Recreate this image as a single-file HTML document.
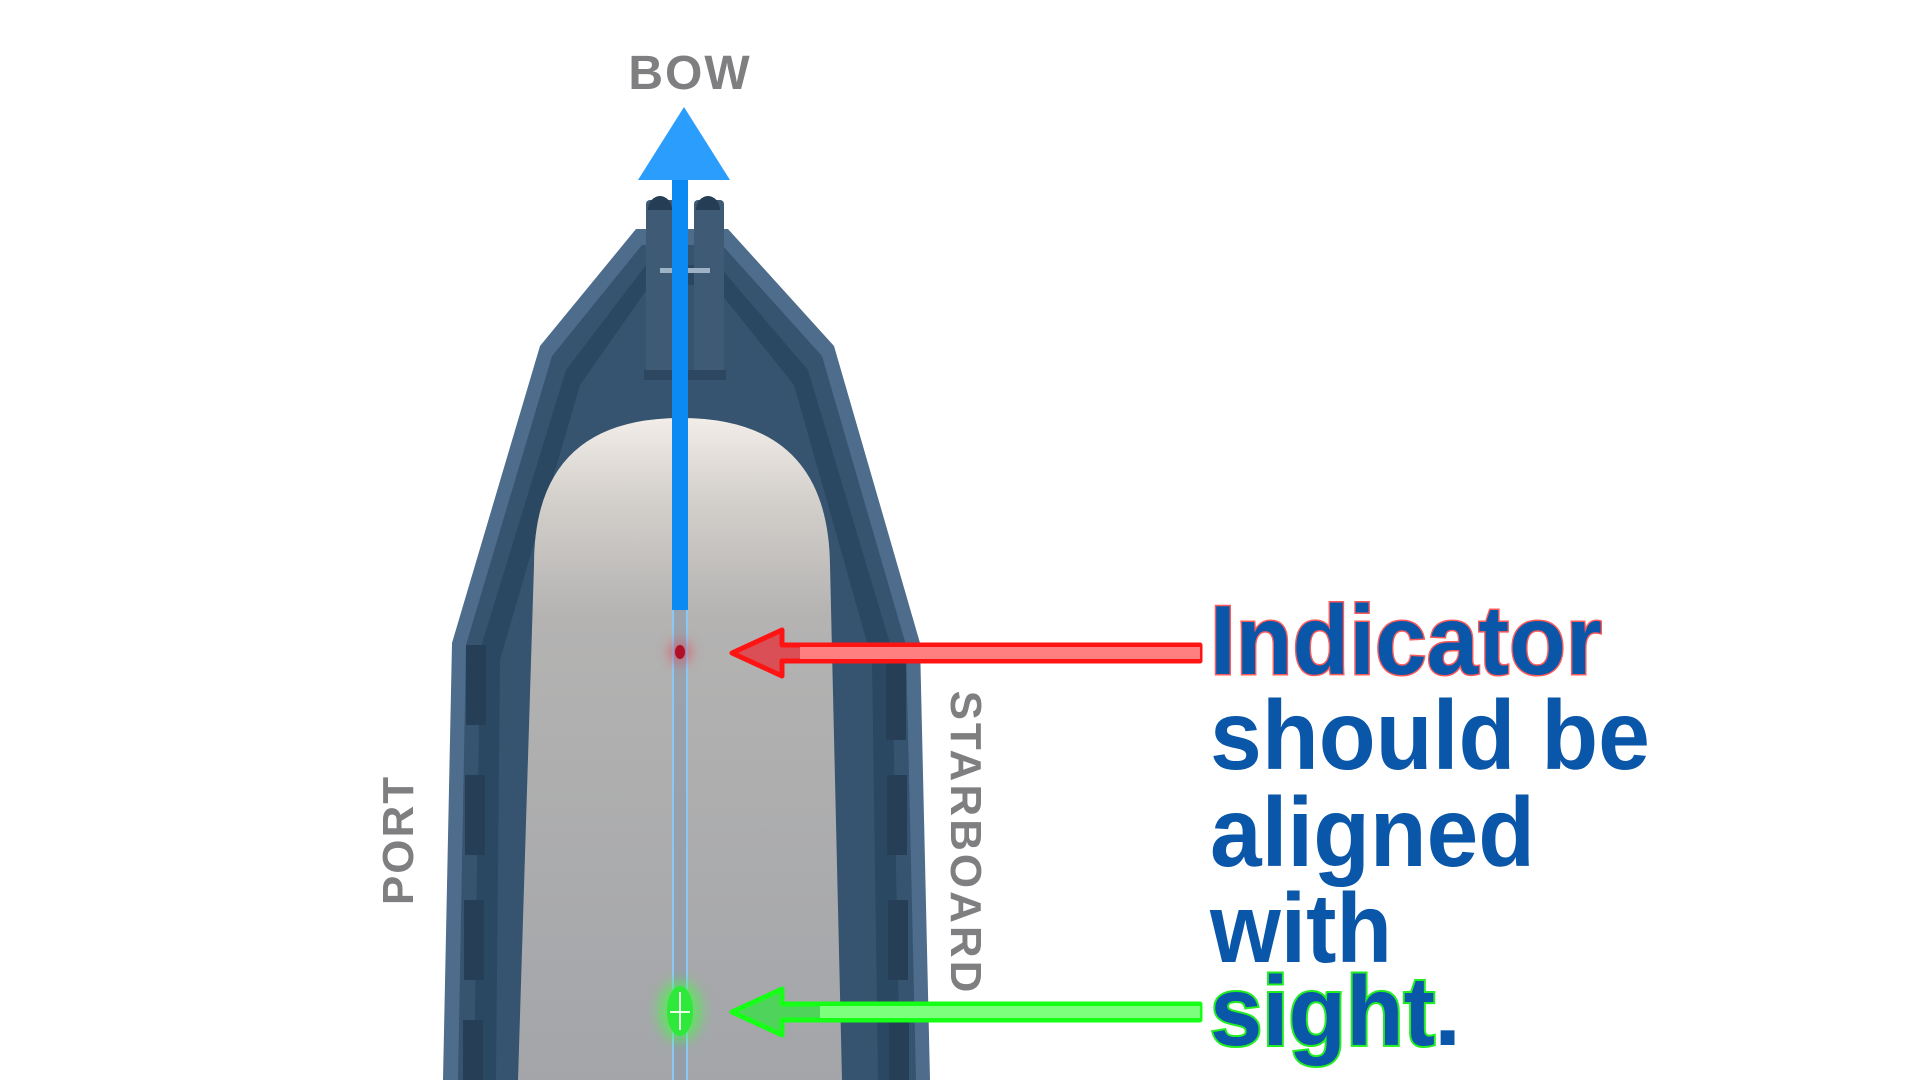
<!DOCTYPE html>
<html><head><meta charset="utf-8"><style>
html,body{margin:0;padding:0;background:#fff;width:1920px;height:1080px;overflow:hidden}
svg{display:block}
</style></head><body>
<svg width="1920" height="1080" viewBox="0 0 1920 1080" xmlns="http://www.w3.org/2000/svg">
<defs>
<linearGradient id="pad" x1="0" y1="0" x2="0" y2="1">
<stop offset="0" stop-color="#f2ede8"/><stop offset="0.12" stop-color="#d4d0cc"/><stop offset="0.3" stop-color="#b4b3b2"/><stop offset="1" stop-color="#a3a5a9"/>
</linearGradient>
<filter id="glow" x="-50%" y="-50%" width="200%" height="200%"><feGaussianBlur stdDeviation="6"/></filter>
</defs>
<!-- hull -->
<polygon points="636,229 540,346 452,643 443,1080 930,1080 920,643 834,346 728,229" fill="#4e6d8c"/>
<polygon points="642,245 552,356 466,645 458,1080 916,1080 906,645 822,356 722,245" fill="#36546f"/>
<polygon points="646,265 566,370 480,650 474,1080 900,1080 892,650 808,370 718,265" fill="#2b4862"/>
<polygon points="650,285 580,385 500,660 496,1080 878,1080 872,660 794,385 714,285" fill="#36546f"/>
<!-- slots -->
<g fill="#263f57">
<rect x="466" y="645" width="20" height="80"/><rect x="465" y="775" width="20" height="80"/><rect x="464" y="900" width="20" height="80"/><rect x="463" y="1020" width="20" height="60"/>
<rect x="886" y="660" width="20" height="80"/><rect x="887" y="775" width="20" height="80"/><rect x="888" y="900" width="20" height="80"/><rect x="889" y="1020" width="20" height="60"/>
</g>
<!-- pad -->
<path d="M534,565 Q534,418 681,418 Q828,418 830,565 L842,1080 L518,1080 Z" fill="url(#pad)"/>
<!-- sight posts -->
<rect x="646" y="200" width="30" height="178" rx="4" fill="#3f5a74"/>
<rect x="694" y="200" width="30" height="178" rx="4" fill="#3f5a74"/>
<rect x="644" y="370" width="82" height="10" fill="#2d4760"/>
<rect x="660" y="268" width="50" height="5" fill="#9fb3c6"/>
<path d="M648,210 a12,14 0 0 1 24,0 z M696,210 a12,14 0 0 1 24,0 z" fill="#253e56"/>
<!-- centerline -->
<rect x="672" y="600" width="15" height="480" fill="#8a98a8" opacity="0.6"/>
<rect x="672" y="600" width="2" height="480" fill="#8cc8f5"/>
<rect x="686" y="600" width="2" height="480" fill="#8cc8f5"/>
<rect x="672" y="180" width="16" height="430" fill="#0b8af3"/>
<polygon points="684,107 638,180 730,180" fill="#2a9dfd"/>
<!-- red indicator -->
<circle cx="680" cy="652" r="12" fill="#e04050" opacity="0.5" filter="url(#glow)"/>
<ellipse cx="680" cy="652" rx="5" ry="7" fill="#b01028"/>
<polygon points="732,653 782,630 782,645 1200,645 1200,661 782,661 782,676" fill="#d94f55" stroke="#ff1414" stroke-width="5" stroke-linejoin="round"/>
<rect x="800" y="647" width="400" height="12" fill="#ff7f80"/>
<!-- green sight -->
<ellipse cx="680" cy="1011" rx="22" ry="30" fill="#3fff3f" opacity="0.6" filter="url(#glow)"/>
<ellipse cx="680" cy="1011" rx="13" ry="25" fill="#2ee83a"/>
<path d="M680,992 V1030 M670,1012 H690" stroke="#e8ffe8" stroke-width="2"/>
<polygon points="732,1012 782,989 782,1004 1200,1004 1200,1020 782,1020 782,1035" fill="#4fd35a" stroke="#16ff16" stroke-width="5" stroke-linejoin="round"/>
<rect x="820" y="1006" width="380" height="12" fill="#7cff7c"/>
<!-- labels -->
<text x="690" y="89" text-anchor="middle" font-family="Liberation Sans, sans-serif" font-weight="bold" font-size="48" fill="#7f7f81" letter-spacing="2">BOW</text>
<text transform="translate(413,840) rotate(-90)" text-anchor="middle" font-family="Liberation Sans, sans-serif" font-weight="bold" font-size="44" fill="#7f7f81" letter-spacing="2">PORT</text>
<text transform="translate(951,843) rotate(90)" text-anchor="middle" font-family="Liberation Sans, sans-serif" font-weight="bold" font-size="44" fill="#7f7f81" letter-spacing="3">STARBOARD</text>
<g font-family="Liberation Sans, sans-serif" font-weight="bold" font-size="98" fill="#0a56a8">
<text x="1210" y="674" textLength="392" lengthAdjust="spacingAndGlyphs" stroke="#ff5a5a" stroke-width="3" paint-order="stroke">Indicator</text>
<text x="1210" y="769" textLength="440" lengthAdjust="spacingAndGlyphs">should be</text>
<text x="1210" y="866" textLength="325" lengthAdjust="spacingAndGlyphs">aligned</text>
<text x="1210" y="962" textLength="182" lengthAdjust="spacingAndGlyphs">with</text>
<text x="1210" y="1045" textLength="225" lengthAdjust="spacingAndGlyphs" stroke="#22ee22" stroke-width="4" paint-order="stroke">sight</text>
<text x="1434" y="1045">.</text>
</g>
</svg>
</body></html>
